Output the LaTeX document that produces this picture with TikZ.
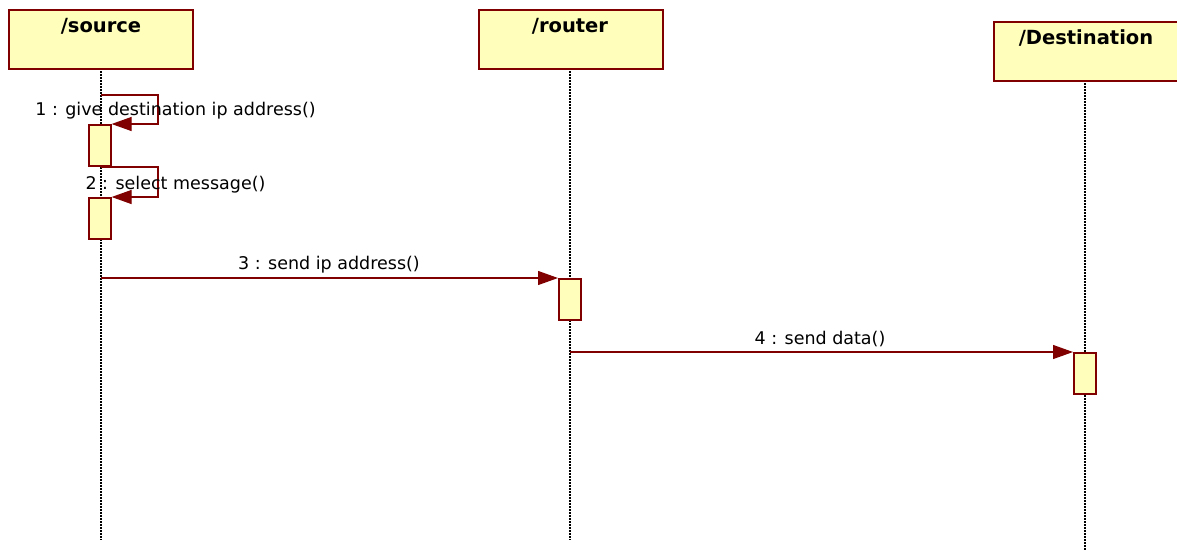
\documentclass[tikz,border=0pt]{standalone}
\usepackage{fontspec}
\setmainfont{DejaVu Sans}
\usetikzlibrary{arrows.meta}
\definecolor{umlred}{HTML}{800000}
\definecolor{umlfill}{HTML}{FFFFBB}
\tikzset{
  x=1pt, y=-1pt,
  objbox/.style={draw=umlred, fill=umlfill, line width=1.6pt, minimum width=184pt, minimum height=59pt, anchor=north west, inner sep=0pt},
  objtitle/.style={font=\bfseries\fontsize{19.5}{22}\selectfont, anchor=center},
  actbox/.style={draw=umlred, fill=umlfill, line width=1.6pt, minimum width=22pt, minimum height=41pt, anchor=north west, inner sep=0pt},
  lifeline/.style={black, line width=1.3pt, dash pattern=on 1.5pt off 1.5pt},
  msg/.style={umlred, line width=1.2pt, -{Triangle[length=20pt, width=14pt]}},
  msglabel/.style={font=\fontsize{17.5}{20}\selectfont, text=black, inner sep=0pt, anchor=center}
}
\begin{document}
\begin{tikzpicture}
\useasboundingbox (0,0) rectangle (1177,550);
% lifelines
\coordinate (srcTop) at (101,68);
\coordinate (srcEnd) at (101,540);
\coordinate (rtTop) at (570,68);
\coordinate (rtEnd) at (570,540);
\coordinate (dstTop) at (1085,80);
\coordinate (dstEnd) at (1085,550);
\draw[lifeline] (srcTop) -- (srcEnd);
\draw[lifeline] (rtTop) -- (rtEnd);
\draw[lifeline] (dstTop) -- (dstEnd);
% objects
\node[objbox] (src) at (8,9) {};
\node[objtitle] (srcT) at (101,26) {/source};
\node[objbox] (rt) at (478,9) {};
\node[objtitle] (rtT) at (570,26) {/router};
\node[objbox] (dst) at (993,21) {};
\node[objtitle] (dstT) at (1086,38) {/Destination};
% activations
\node[actbox] (a1) at (88,124) {};
\node[actbox] (a2) at (88,197) {};
\node[actbox] (a3) at (558,278) {};
\node[actbox] (a4) at (1073,352) {};
% self messages
\coordinate (m1s) at (101,95);
\coordinate (m2s) at (101,167);
\draw[msg] (m1s) -- (158,95) -- (158,124) -- (a1.north east);
\draw[msg] (m2s) -- (158,167) -- (158,197) -- (a2.north east);
% calls between objects
\coordinate (m3s) at (101,278);
\coordinate (m4s) at (570,352);
\draw[msg] (m3s) -- (a3.north west);
\draw[msg] (m4s) -- (a4.north west);
% labels
\node[msglabel] (l1) at (175.5,111) {1 : give destination ip address()};
\node[msglabel] (l2) at (175.5,185) {2 : select message()};
\node[msglabel] (l3) at (329,265) {3 : send ip address()};
\node[msglabel] (l4) at (820,339) {4 : send data()};
\end{tikzpicture}
\end{document}
